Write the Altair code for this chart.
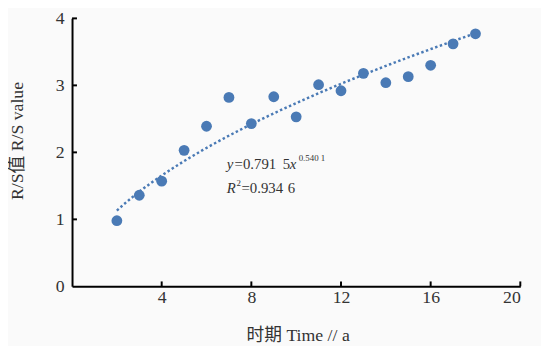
import altair as alt
import pandas as pd

# data
periods = [2, 3, 4, 5, 6, 7, 8, 9, 10, 11, 12, 13, 14, 15, 16, 17, 18]
rs_values = [0.98, 1.36, 1.57, 2.03, 2.39, 2.82, 2.43, 2.83, 2.53, 3.01, 2.92, 3.18, 3.04, 3.13, 3.30, 3.62, 3.77]
x_ticks = [4, 8, 12, 16, 20]
y_ticks = [0, 1, 2, 3, 4]

BLUE = "#4a7ab5"
SERIF = "Liberation Serif, Noto Sans CJK SC"
W, H = 455, 272

df = pd.DataFrame({"t": periods, "rs": rs_values})
xt = pd.DataFrame({"v": x_ticks})
yt = pd.DataFrame({"v": y_ticks[1:]})

xscale = alt.Scale(domain=[0, 20], nice=False, zero=True)
yscale = alt.Scale(domain=[0, 4], nice=False, zero=True)

base = alt.Chart(df)

pts = base.mark_circle(size=120, opacity=1, color=BLUE).encode(
    x=alt.X("t:Q", scale=xscale,
            axis=alt.Axis(values=x_ticks, title="时期 Time // a", ticks=False, format="d",
                          labelPadding=2, titleFontSize=18, titleX=229, titleY=55,
                          titleBaseline="alphabetic", grid=False)),
    y=alt.Y("rs:Q", scale=yscale,
            axis=alt.Axis(values=y_ticks, title="R/S值 R/S value", ticks=False, format="d",
                          labelPadding=8, titleFontSize=18, titleX=-55, titleY=124,
                          titleBaseline="middle", grid=False)),
)

trend = base.transform_regression("t", "rs", method="pow", extent=[2, 18]).mark_line(
    color=BLUE, strokeWidth=2.5, strokeDash=[2.5, 2.5]
).encode(x=alt.X("t:Q", scale=xscale), y=alt.Y("rs:Q", scale=yscale))

xtick_rules = alt.Chart(xt).mark_rule(color="black", strokeWidth=2).encode(
    x=alt.X("v:Q", scale=xscale), y=alt.value(H), y2=alt.value(H - 5)
)
ytick_rules = alt.Chart(yt).mark_rule(color="black", strokeWidth=2).encode(
    y=alt.Y("v:Q", scale=yscale), x=alt.value(0), x2=alt.value(5)
)

def txt(s, x, y, size=15, style="normal"):
    return alt.Chart(pd.DataFrame({"s": [s]})).mark_text(
        align="left", baseline="alphabetic", font=SERIF, fontSize=size,
        fontStyle=style, color="#333333"
    ).encode(text="s:N", x=alt.value(x), y=alt.value(y))

eq = [
    txt("y", 157, 153, style="italic"),
    txt("=0.791", 165, 153),
    txt("5", 214, 153),
    txt("x", 221, 153, style="italic"),
    txt("0.540 1", 230, 145, size=9),
    txt("R", 157, 177, style="italic"),
    txt("2", 167, 170, size=9),
    txt("=0.934", 172, 177),
    txt("6", 219, 177),
]

chart = alt.layer(xtick_rules, ytick_rules, trend, pts, *eq).properties(
    width=W, height=H,
    autosize=alt.AutoSizeParams(type="none"),
    padding={"left": 65, "top": 8, "right": 21, "bottom": 58},
    background="#fafafa",
).configure_view(stroke=None).configure_axis(
    domainColor="black", domainWidth=2,
    labelFont=SERIF, labelFontSize=18, labelColor="#333333",
    titleFont=SERIF, titleFontWeight="normal", titleColor="#333333",
)

chart.save("out.html", embed_options={"renderer": "svg", "actions": False})
